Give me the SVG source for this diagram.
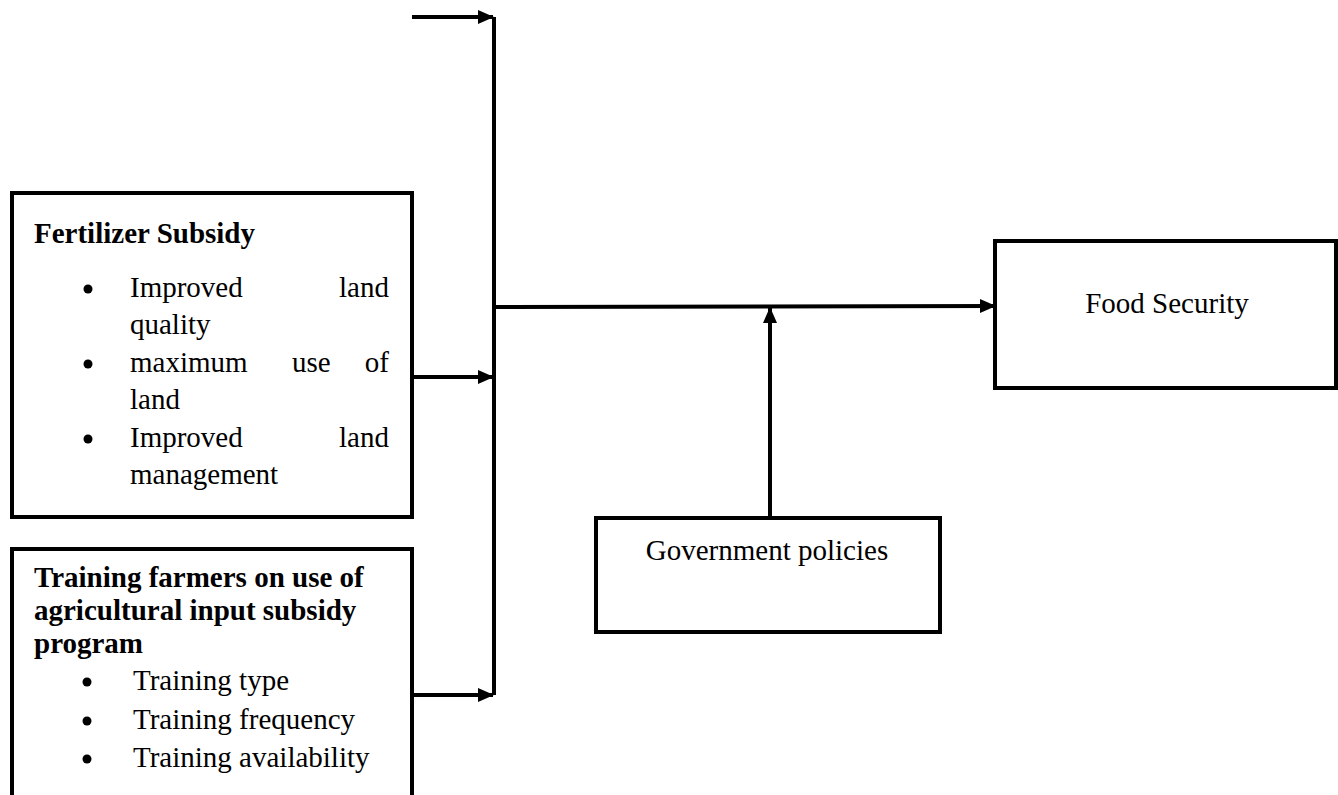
<svg xmlns="http://www.w3.org/2000/svg" width="1338" height="795" viewBox="0 0 1338 795">
<defs>
<marker id="ah" markerUnits="userSpaceOnUse" markerWidth="16" markerHeight="16" viewBox="0 0 16 16" refX="15" refY="8" orient="auto">
<path d="M0,1 L16,8 L0,15 Z" fill="#000"/>
</marker>
<style>
.box{fill:#fff;stroke:#000;stroke-width:4}
.ln{fill:none;stroke:#000;stroke-width:4}
.t{font-family:"Liberation Serif","Times New Roman",serif;font-size:29px;fill:#000}
.b{font-weight:bold}
</style>
</defs>
<rect width="1338" height="795" fill="#fff"/>
<g id="connectors">
<line class="ln" x1="494" y1="17" x2="494" y2="695"/>
<line class="ln" x1="412" y1="17" x2="493" y2="17" marker-end="url(#ah)"/>
<line class="ln" x1="412" y1="377" x2="493" y2="377" marker-end="url(#ah)"/>
<line class="ln" x1="412" y1="695" x2="493" y2="695" marker-end="url(#ah)"/>
<line class="ln" x1="494" y1="307" x2="995" y2="306" marker-end="url(#ah)"/>
<line class="ln" x1="770" y1="518" x2="770" y2="308" marker-end="url(#ah)"/>
</g>
<g id="fertilizer">
<rect class="box" x="12" y="193" width="400" height="324"/>
<text class="t b" x="34" y="243">Fertilizer Subsidy</text>
<circle cx="88" cy="289" r="4.5"/>
<text class="t" x="130" y="297">Improved</text>
<text class="t" x="389" y="297" text-anchor="end">land</text>
<text class="t" x="130" y="334">quality</text>
<circle cx="88" cy="364" r="4.5"/>
<text class="t" x="130" y="372">maximum</text>
<text class="t" x="292" y="372">use</text>
<text class="t" x="389" y="372" text-anchor="end">of</text>
<text class="t" x="130" y="409">land</text>
<circle cx="88" cy="439" r="4.5"/>
<text class="t" x="130" y="447">Improved</text>
<text class="t" x="389" y="447" text-anchor="end">land</text>
<text class="t" x="130" y="484">management</text>
</g>
<g id="training">
<rect class="box" x="12" y="549" width="400" height="250"/>
<text class="t b" x="34" y="587">Training farmers on use of</text>
<text class="t b" x="34" y="620">agricultural input subsidy</text>
<text class="t b" x="34" y="653">program</text>
<circle cx="87" cy="682" r="4.5"/>
<text class="t" x="133" y="690">Training type</text>
<circle cx="87" cy="721" r="4.5"/>
<text class="t" x="133" y="729">Training frequency</text>
<circle cx="87" cy="759" r="4.5"/>
<text class="t" x="133" y="767">Training availability</text>
</g>
<g id="government">
<rect class="box" x="596" y="518" width="344" height="114"/>
<text class="t" x="767" y="560" text-anchor="middle">Government policies</text>
</g>
<g id="food">
<rect class="box" x="995" y="241" width="341" height="147"/>
<text class="t" x="1167" y="313" text-anchor="middle">Food Security</text>
</g>
</svg>
